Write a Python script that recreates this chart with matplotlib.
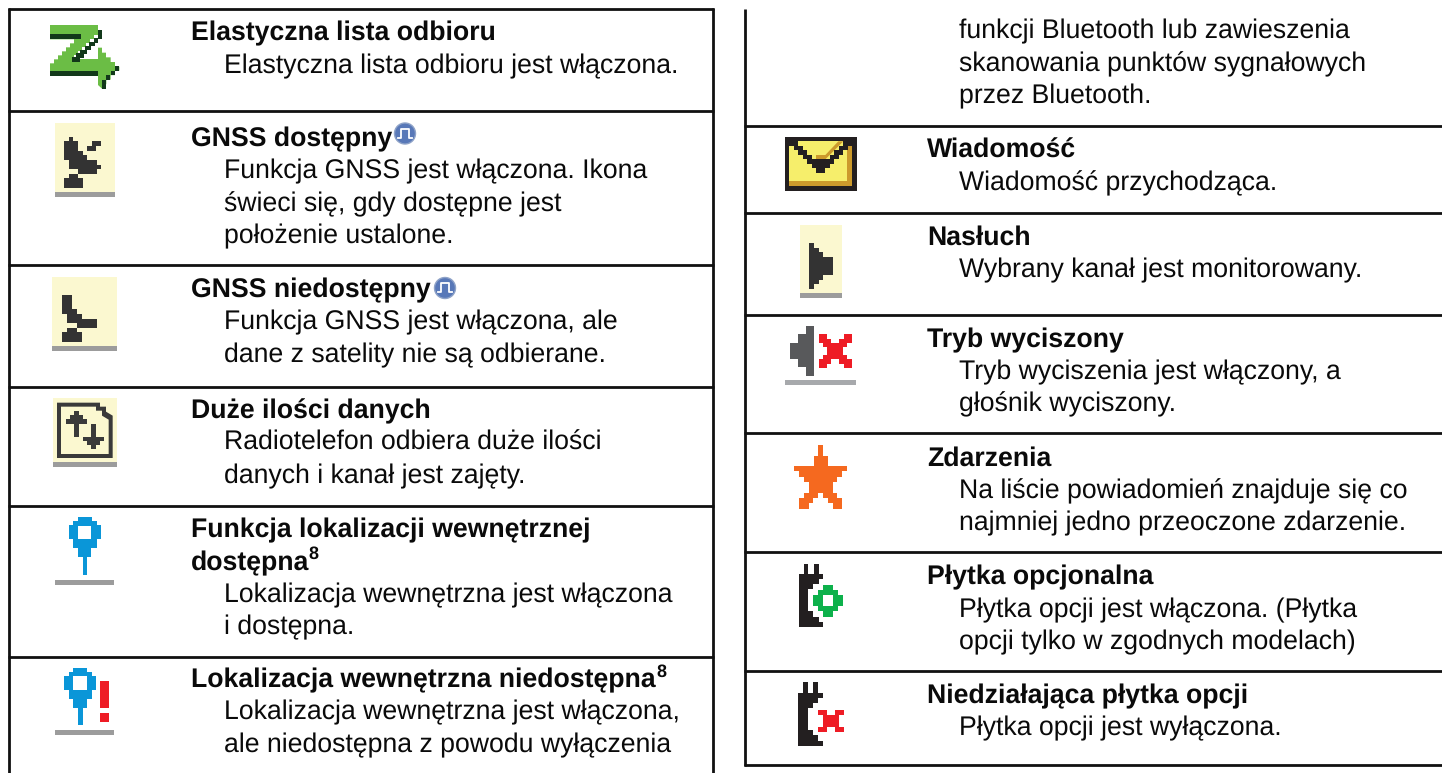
import matplotlib
matplotlib.use('Agg')
import matplotlib.pyplot as plt
from matplotlib.patches import Polygon, Rectangle, Circle

plt.rcParams['font.family'] = ['Liberation Sans', 'DejaVu Sans']
plt.rcParams['text.hinting'] = 'none'

# table rules, in picture pixels
left_rows = [9, 111, 265, 387, 506, 657]
right_rows = [126, 213, 315, 433, 552, 671, 765]

# (x, baseline y, text, bold)
left_texts = [
    (191, 40, 'Elastyczna lista odbioru', True),
    (224, 73, 'Elastyczna lista odbioru jest włączona.', False),
    (191, 146, 'GNSS dostępny', True),
    (224, 178, 'Funkcja GNSS jest włączona. Ikona', False),
    (224, 211, 'świeci się, gdy dostępne jest', False),
    (224, 243, 'położenie ustalone.', False),
    (191, 297, 'GNSS niedostępny', True),
    (224, 329, 'Funkcja GNSS jest włączona, ale', False),
    (224, 362, 'dane z satelity nie są odbierane.', False),
    (191, 418, 'Duże ilości danych', True),
    (224, 450, 'Radiotelefon odbiera duże ilości', False),
    (224, 483, 'danych i kanał jest zajęty.', False),
    (191, 537, 'Funkcja lokalizacji wewnętrznej', True),
    (191, 570, 'dostępna', True),
    (224, 602, 'Lokalizacja wewnętrzna jest włączona', False),
    (224, 634, 'i dostępna.', False),
    (191, 687, 'Lokalizacja wewnętrzna niedostępna', True),
    (224, 719, 'Lokalizacja wewnętrzna jest włączona,', False),
    (224, 752, 'ale niedostępna z powodu wyłączenia', False),
]
right_texts = [
    (959, 38, 'funkcji Bluetooth lub zawieszenia', False),
    (959, 71, 'skanowania punktów sygnałowych', False),
    (959, 103, 'przez Bluetooth.', False),
    (927, 158, 'Wiadomość', True),
    (959, 190, 'Wiadomość przychodząca.', False),
    (927, 245, 'Nasłuch', True),
    (959, 277, 'Wybrany kanał jest monitorowany.', False),
    (927, 347, 'Tryb wyciszony', True),
    (959, 379, 'Tryb wyciszenia jest włączony, a', False),
    (959, 411, 'głośnik wyciszony.', False),
    (927, 466, 'Zdarzenia', True),
    (959, 498, 'Na liście powiadomień znajduje się co', False),
    (959, 530, 'najmniej jedno przeoczone zdarzenie.', False),
    (927, 584, 'Płytka opcjonalna', True),
    (959, 617, 'Płytka opcji jest włączona. (Płytka', False),
    (959, 649, 'opcji tylko w zgodnych modelach)', False),
    (927, 703, 'Niedziałająca płytka opcji', True),
    (959, 735, 'Płytka opcji jest wyłączona.', False),
]

# superscript 8 after bold lines
sup_x = [(308, 559), (656, 677)]

DARK = '#333333'
CREAM = '#fbf8d0'
BAR = '#9c9c9c'
BLUE = '#0a96d8'
RED = '#ee1c25'
BLACK = '#231f20'

fig = plt.figure(figsize=(14.42, 7.73), dpi=100)
ax = fig.add_axes([0, 0, 1, 1])
ax.set_xlim(0, 1442)
ax.set_ylim(773, 0)
ax.axis('off')


def rule(x0, y0, x1, y1):
    ax.plot([x0, x1], [y0, y1], color='#111111', lw=2.0, solid_capstyle='butt')


def box(x0, y0, x1, y1, color):
    ax.add_patch(Rectangle((x0, y0), x1 - x0, y1 - y0, fc=color, ec='none'))


def poly(pts, color, ox=0, oy=0, ec='none'):
    # points were read from the 3x zooms
    ax.add_patch(Polygon([(ox + x / 3, oy + y / 3) for x, y in pts], closed=True, fc=color, ec=ec, lw=0.6))


def stairs(x0, y0, x1, y1, n, yfirst=False):
    # pixel art diagonal
    pts = []
    for i in range(n):
        xa = x0 + (x1 - x0) * i / n
        xb = x0 + (x1 - x0) * (i + 1) / n
        ya = y0 + (y1 - y0) * i / n
        yb = y0 + (y1 - y0) * (i + 1) / n
        pts.append((xa, yb) if yfirst else (xb, ya))
        pts.append((xb, yb))
    return pts


for y in left_rows:
    rule(8, y, 714, y)
rule(9, 8, 9, 773)
rule(713, 8, 713, 773)
for y in right_rows:
    rule(744, y, 1442, y)
rule(745, 9, 745, 766)

for x, y, s, bold in left_texts + right_texts:
    ax.text(x, y, s, fontsize=19.2, fontweight='bold' if bold else 'normal', ha='left', va='baseline', color='#0a0a0a')
for x, y in sup_x:
    ax.text(x, y, '8', fontsize=13, fontweight='bold', ha='left', va='baseline', color='#0a0a0a')

# blue badge next to GNSS titles
for cx, cy in [(405, 133.5), (445, 288)]:
    ax.add_patch(Circle((cx, cy), 10.5, fc='#5878b8', ec='#8fa3c8', lw=1))
    ax.plot([cx - 7, cx - 4, cx - 4, cx + 4, cx + 4, cx + 7], [cy + 4, cy + 4, cy - 5, cy - 5, cy + 4, cy + 4], color='white', lw=1.3)

# Elastyczna lista odbioru
z_green = [(150, 75), (294, 75), (294, 105)] + stairs(294, 105, 222, 177, 6) + [(294, 177), (294, 143), (306, 143)] \
    + [(306, 158), (318, 158), (318, 172), (332, 172), (332, 186), (345, 186), (345, 200), (358, 200), (358, 212)] \
    + stairs(358, 212, 306, 266, 4) + [(294, 255), (294, 228), (150, 228), (150, 190)] + stairs(150, 190, 222, 118, 6) + [(150, 118)]
poly(z_green, '#6bbd45')
poly([(150, 102), (244, 102), (244, 118), (150, 118)], '#12381a')
poly([(294, 90), (306, 90), (306, 116)] + stairs(306, 116, 240, 185, 6) + [(215, 185), (215, 172)] + stairs(215, 172, 294, 102, 6), '#12381a')
poly([(150, 212), (294, 212), (294, 228), (150, 228)], '#12381a')
poly([(346, 198), (358, 198), (358, 212)] + stairs(358, 212, 318, 254, 3) + [(318, 266), (306, 266), (306, 240)] + stairs(306, 240, 346, 198, 3), '#12381a')

# GNSS dostepny
box(55, 123, 115, 192, CREAM)
box(55, 192, 115, 197, BAR)
poly([(192, 422), (207, 422), (207, 411), (219, 411), (219, 422), (234, 422), (234, 452), (249, 452), (249, 465), (261, 465), (261, 480), (291, 480), (291, 495), (303, 495), (303, 507), (291, 507), (291, 522), (234, 522), (234, 507), (207, 507), (207, 480), (192, 480)], DARK)
poly([(261, 438), (276, 438), (276, 423), (303, 423), (303, 438), (288, 438), (288, 453), (261, 453)], DARK)
poly([(207, 522), (234, 522), (234, 534), (249, 534), (249, 564), (192, 564), (192, 534), (207, 534)], DARK)

# GNSS niedostepny
box(52, 277, 117, 346, CREAM)
box(52, 346, 117, 351, BAR)
poly([(186, 885), (216, 885), (216, 927), (231, 927), (231, 942), (246, 942), (246, 957), (291, 957), (291, 984), (231, 984), (231, 969), (201, 969), (201, 942), (186, 942)], DARK)
poly([(201, 984), (231, 984), (231, 996), (246, 996), (246, 1026), (186, 1026), (186, 996), (201, 996)], DARK)

# Duze ilosci danych
box(53, 398, 117, 462, CREAM)
box(53, 462, 117, 467, BAR)
ox, oy = 0, 385
poly([(171, 53), (300, 53), (300, 65), (318, 65), (318, 80), (338, 92), (338, 219), (171, 219)], '#3a3a3a', ox, oy)
poly([(183, 65), (288, 65), (288, 77), (306, 77), (306, 92), (326, 104), (326, 207), (183, 207)], CREAM, ox, oy)
poly([(222, 78), (236, 78), (236, 90), (248, 90), (248, 102), (261, 102), (261, 116), (236, 116), (236, 155), (222, 155), (222, 116), (197, 116), (197, 102), (210, 102), (210, 90), (222, 90)], '#3a3a3a', ox, oy)
poly([(274, 117), (288, 117), (288, 155), (312, 155), (312, 168), (300, 168), (300, 180), (288, 180), (288, 193), (274, 193), (274, 180), (261, 180), (261, 168), (248, 168), (248, 155), (274, 155)], '#3a3a3a', ox, oy)


def pin(dx, dy):
    poly([(234, 397), (276, 397), (276, 409), (290, 409), (290, 421), (302, 421), (302, 463), (290, 463), (290, 490), (274, 490), (274, 517), (262, 517), (262, 570), (248, 570), (248, 517), (234, 517), (234, 490), (220, 490), (220, 463), (207, 463), (207, 421), (220, 421), (220, 409), (234, 409)], BLUE, dx, dy)
    poly([(234, 423), (274, 423), (274, 463), (234, 463)], 'white', dx, dy)


# Funkcja lokalizacji
pin(0, 385)
box(55, 580, 114, 585, BAR)
# Lokalizacja niedostepna
pin(-14 / 3, 385 + 451 / 3)
box(55, 730, 114, 735, BAR)
box(100, 681, 109, 708, RED)
box(100, 713, 109, 722, RED)

# Wiadomosc
ox, oy = 730, 110
poly([(165, 81), (381, 81), (381, 243), (165, 243)], BLACK, ox, oy)
poly([(178, 94), (366, 94), (366, 229), (178, 229)], '#f6ee6b', ox, oy)
poly([(178, 214), (352, 214), (352, 108), (366, 108), (366, 229), (178, 229)], '#cc9a2c', ox, oy)
poly([(258, 148), (286, 148), (340, 94), (325, 94), (286, 135), (258, 135)], '#cc9a2c', ox, oy)
poly([(190, 94), (205, 94)] + stairs(205, 94, 258, 148, 4, yfirst=True) + [(286, 148)] + stairs(286, 148, 340, 94, 4) + [(366, 94), (366, 108)] + stairs(366, 108, 286, 188, 6) + [(258, 188)] + stairs(258, 188, 178, 108, 6, yfirst=True) + [(178, 94)], BLACK, ox, oy)

# Nasluch
box(800, 225, 842, 293, CREAM)
box(800, 293, 842, 298, BAR)
poly([(237, 399), (252, 399), (252, 413), (266, 413), (266, 427), (280, 427), (280, 441), (309, 441), (309, 496), (280, 496), (280, 510), (266, 510), (266, 523), (252, 523), (252, 537), (237, 537)], DARK, ox, oy)

# Tryb wyciszony
poly([(229, 649), (253, 649), (253, 798), (229, 798), (229, 772), (203, 772), (203, 748), (179, 748), (179, 699), (203, 699), (203, 673), (229, 673)], '#58595b', ox, oy)
poly([(266, 673), (290, 673), (290, 687), (304, 687), (304, 699), (328, 699), (328, 687), (342, 687), (342, 673), (366, 673), (366, 699), (352, 699), (352, 711), (340, 711), (340, 736), (352, 736), (352, 748), (366, 748), (366, 773), (342, 773), (342, 761), (328, 761), (328, 748), (304, 748), (304, 761), (290, 761), (290, 773), (266, 773), (266, 748), (280, 748), (280, 736), (292, 736), (292, 711), (280, 711), (280, 699), (266, 699)], RED, ox, oy)
box(785, 380, 856, 385, '#a7a9ac')

# Zdarzenia
ox, oy = 730, 430
poly([(265, 45), (279, 45), (279, 77), (293, 77), (293, 108), (351, 108), (351, 124), (336, 124), (336, 140), (322, 140), (322, 156), (308, 156), (308, 188), (322, 188), (322, 204), (336, 204), (336, 236), (308, 236), (308, 220), (294, 220), (294, 204), (279, 204), (279, 188), (265, 188), (265, 204), (250, 204), (250, 220), (236, 220), (236, 236), (208, 236), (208, 204), (222, 204), (222, 188), (236, 188), (236, 156), (222, 156), (222, 140), (208, 140), (208, 124), (193, 124), (193, 108), (251, 108), (251, 77), (265, 77)], '#f5691f', ox, oy)


def card(dy, dx=0):
    poly([(221, 401), (235, 401), (235, 433), (251, 433), (251, 401), (266, 401), (266, 433), (280, 433), (280, 447), (266, 447), (266, 462), (250, 462), (250, 478), (235, 478), (235, 544), (250, 544), (250, 560), (266, 560), (266, 576), (280, 576), (280, 592), (206, 592), (206, 433), (221, 433)], BLACK, ox + dx, oy + dy)


# Plytka opcjonalna
card(0)
poly([(280, 464), (308, 464), (308, 480), (324, 480), (324, 496), (339, 496), (339, 528), (324, 528), (324, 544), (308, 544), (308, 560), (280, 560), (280, 544), (265, 544), (265, 528), (250, 528), (250, 496), (265, 496), (265, 480), (280, 480)], '#0db14b', ox, oy)
poly([(280, 496), (308, 496), (308, 528), (280, 528)], 'white', ox, oy)

# Niedzialajaca plytka
card(356 / 3, -0.5)
poly([(264, 840), (290, 840), (290, 856), (316, 856), (316, 840), (342, 840), (342, 856), (328, 856), (328, 890), (342, 890), (342, 907), (316, 907), (316, 890), (290, 890), (290, 907), (264, 907), (264, 890), (278, 890), (278, 856), (264, 856)], RED, ox, oy)

fig.savefig('out.png', dpi=100)
